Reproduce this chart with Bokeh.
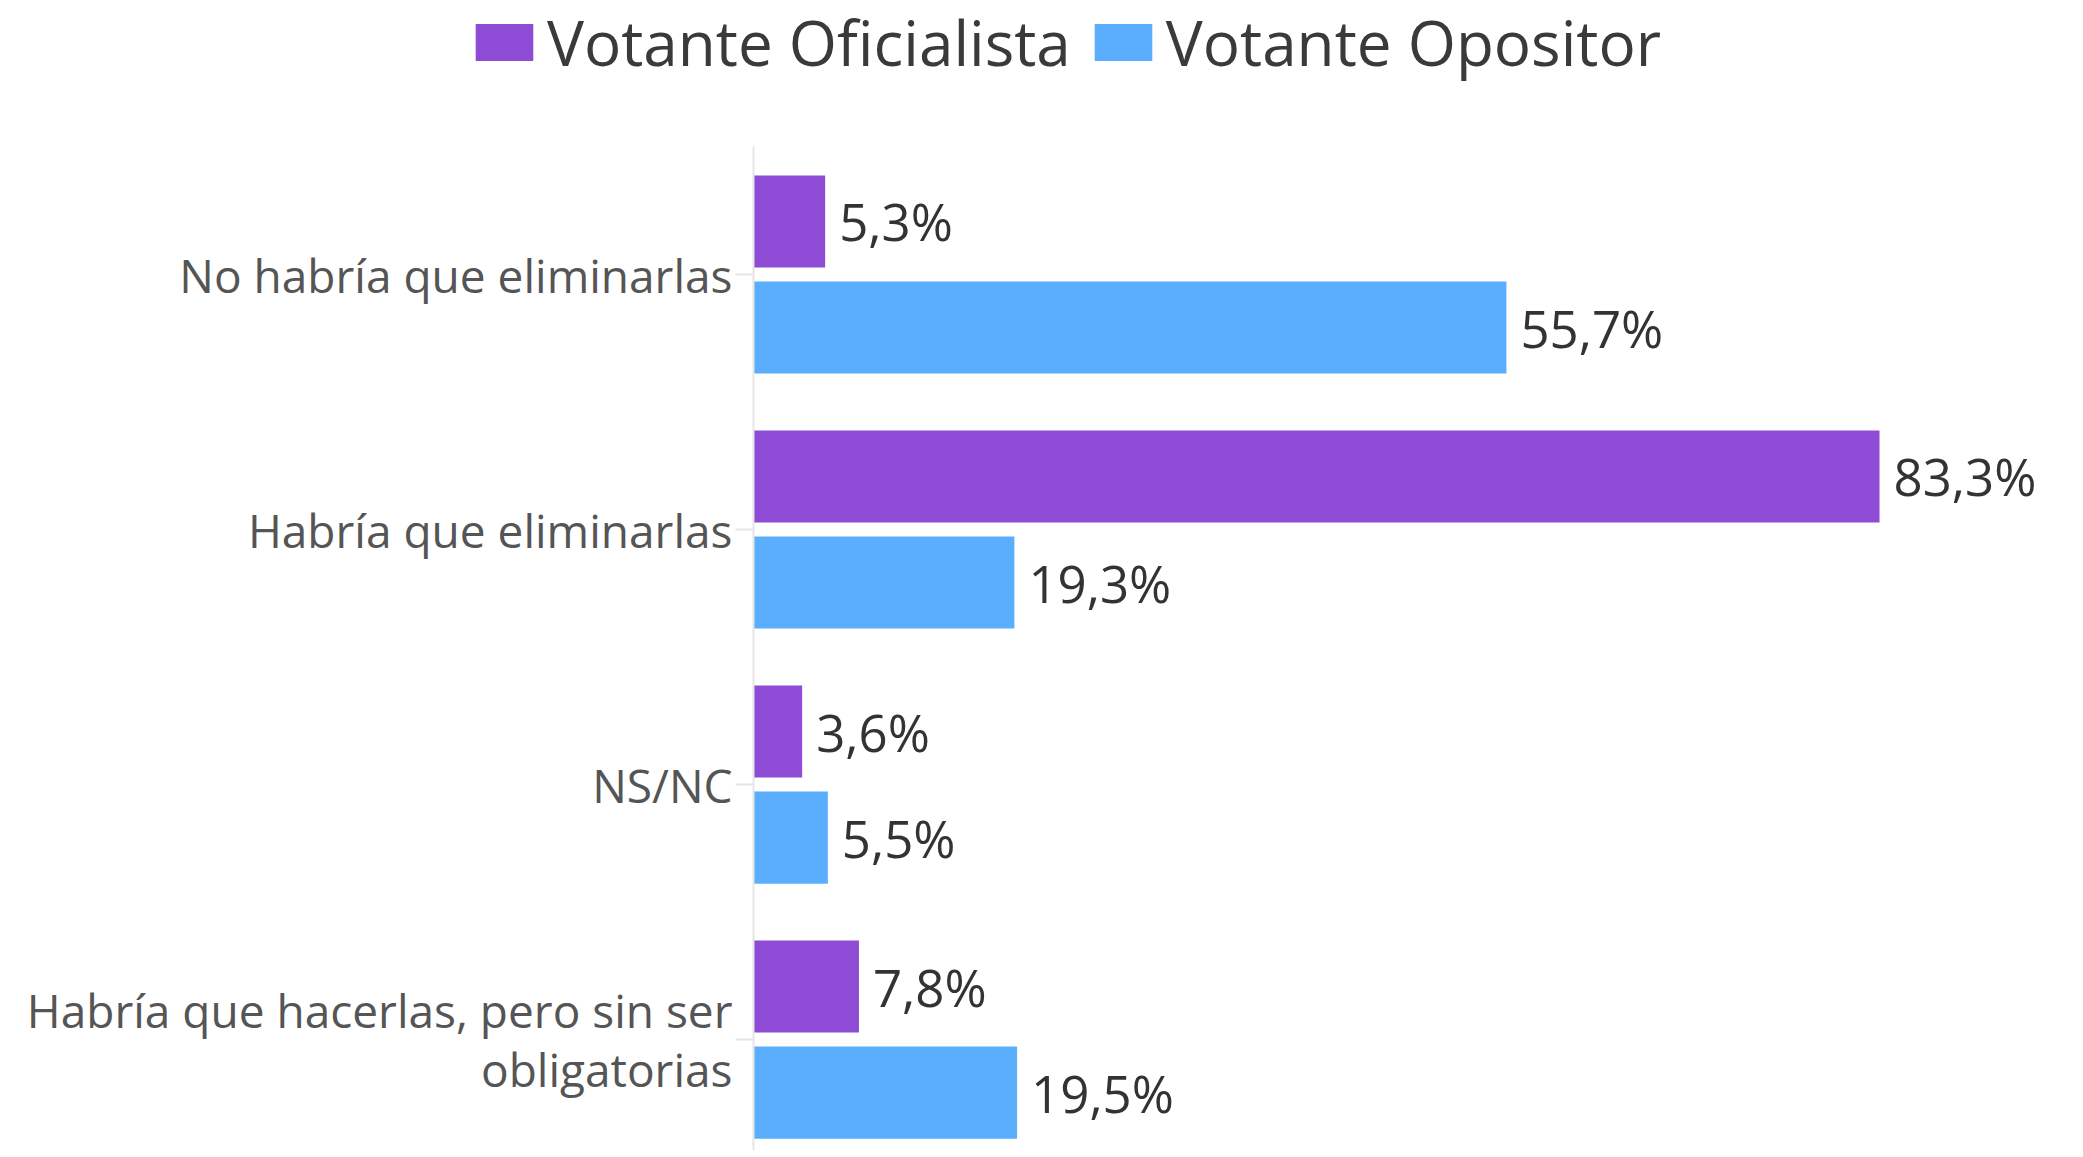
from bokeh.plotting import figure
from bokeh.models import ColumnDataSource, Range1d, FixedTicker, LinearAxis
from bokeh.layouts import column
from bokeh.transform import dodge
from bokeh.embed import file_html
from bokeh.resources import INLINE
from bokeh.core.properties import value

categories = [
    "No habría que eliminarlas",
    "Habría que eliminarlas",
    "NS/NC",
    "Habría que hacerlas, pero sin ser\nobligatorias",
]
oficialista = [5.3, 83.3, 3.6, 7.8]
opositor = [55.7, 19.3, 5.5, 19.5]
series_names = ["Votante Oficialista", "Votante Opositor"]
colors = ["#8e4bd6", "#5aaefd"]

def fmt(v):
    return f"{v:.1f}".replace(".", ",") + "%"

pos = list(range(len(categories)))
src = ColumnDataSource(dict(
    pos=pos,
    ofi=oficialista,
    opo=opositor,
    ofi_lbl=[fmt(v) for v in oficialista],
    opo_lbl=[fmt(v) for v in opositor],
))

FONT = "Open Sans"
W = 2075
H_LEG = 110
H_MAIN = 1040
off = 0.208
bh = 0.361

# ---- legend strip (same data, bars kept out of its view; only the legend shows) ----
pl = figure(width=W, height=H_LEG, output_backend="svg", toolbar_location=None,
            x_range=Range1d(-1001, -1000), y_range=Range1d(100, 101),
            min_border_left=468, min_border_top=0, min_border_right=0,
            min_border_bottom=0, outline_line_color=None)
pl.frame_align = False
pl.xaxis.visible = False
pl.yaxis.visible = False
pl.xgrid.visible = False
pl.ygrid.visible = False
for colname, name, c, o in [("ofi", series_names[0], colors[0], -off),
                            ("opo", series_names[1], colors[1], off)]:
    pl.hbar(y=dodge("pos", o), right=colname, left=0, height=bh, source=src,
            fill_color=c, line_color=None, legend_label=name)
lg = pl.legend[0]
lg.location = "top_left"
lg.orientation = "horizontal"
lg.padding = 0
lg.margin = 0
lg.spacing = 16
lg.glyph_width = 72
lg.glyph_height = 46
lg.label_standoff = 7
lg.label_text_font = FONT
lg.label_text_font_size = "62px"
lg.label_text_line_height = 0.85
lg.label_text_color = "#3a3a3a"
lg.border_line_alpha = 0
lg.background_fill_alpha = 0

# ---- main chart ----
p = figure(width=W, height=H_MAIN, output_backend="svg", toolbar_location=None,
           x_range=Range1d(0, 97.8), y_range=Range1d(3.435, -0.502),
           min_border_left=753, min_border_top=146 - H_LEG, min_border_right=0,
           min_border_bottom=0, outline_line_color=None, background_fill_color="white")
p.frame_align = False
p.xaxis.visible = False
p.yaxis.visible = False
p.xgrid.visible = False
p.ygrid.visible = False

p.hbar(y=dodge("pos", -off), right="ofi", left=0, height=bh, source=src,
       fill_color=colors[0], line_color=None)
p.hbar(y=dodge("pos", off), right="opo", left=0, height=bh, source=src,
       fill_color=colors[1], line_color=None)

for col, lbl, o in [("ofi", "ofi_lbl", -off), ("opo", "opo_lbl", off)]:
    p.text(x=col, y=dodge("pos", o), text=lbl, source=src, x_offset=14,
           text_baseline="middle", text_align="left", text_font=value(FONT),
           text_font_size="51px", text_color="#333333")

ax = LinearAxis(ticker=FixedTicker(ticks=pos),
                major_label_overrides={i: c for i, c in enumerate(categories)})
ax.axis_line_color = "#e6e6e6"
ax.axis_line_width = 2
ax.major_tick_line_color = "#e6e6e6"
ax.major_tick_line_width = 2
ax.major_tick_out = 18
ax.major_tick_in = 0
ax.minor_tick_line_color = None
ax.major_label_standoff = 3
ax.major_label_text_font = FONT
ax.major_label_text_font_size = "46px"
ax.major_label_text_line_height = 0.95
ax.major_label_text_color = "#555555"
p.add_layout(ax, "left")

layout = column(pl, p, spacing=0)
open("out.html", "w").write(file_html(layout, INLINE))
